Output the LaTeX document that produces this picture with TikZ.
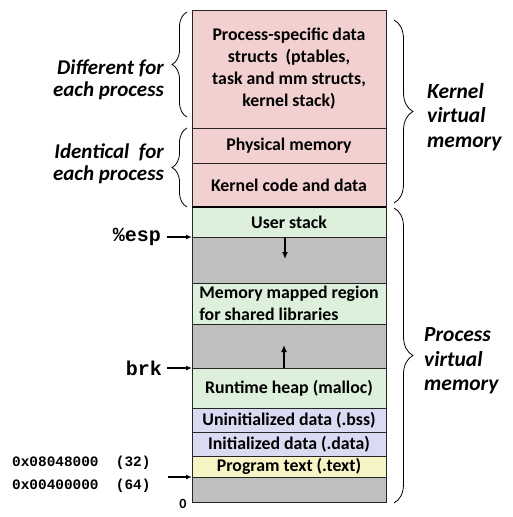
\documentclass[tikz,border=0pt]{standalone}
\usepackage{fontspec}
\setmainfont{Carlito}
\newfontfamily\monofont{Liberation Mono}
\usetikzlibrary{decorations.pathreplacing,arrows.meta}
\definecolor{kpink}{RGB}{242,208,208}
\definecolor{ugreen}{RGB}{221,240,219}
\definecolor{ugray}{RGB}{191,191,191}
\definecolor{ulav}{RGB}{218,218,242}
\definecolor{uyel}{RGB}{247,245,198}
\tikzset{
  blk/.style={draw=black!85, line width=0.8pt, minimum width=194pt, inner sep=0pt, outer sep=0pt,
    font=\fontsize{17.8}{22}\selectfont\bfseries, align=center, text=black},
  side/.style={font=\fontsize{21}{21.5}\selectfont\bfseries\itshape, inner sep=0pt},
  sider/.style={font=\fontsize{21.5}{24.5}\selectfont\bfseries\itshape, inner sep=0pt, align=left, anchor=west},
  brc/.style={decorate, decoration={brace, amplitude=#1}, line width=0.8pt},
  ptr/.style={-{Latex[length=6pt,width=5pt]}, line width=1.2pt},
  inarr/.style={-{Latex[length=7pt,width=6pt]}, line width=1.8pt},
  mono/.style={font=\monofont\fontsize{20}{22}\selectfont\bfseries, inner sep=0pt, anchor=east},
  hex/.style={font=\monofont\fontsize{14.4}{18}\selectfont\bfseries, inner sep=0pt, anchor=west}
}
\begin{document}
\begin{tikzpicture}[x=1pt,y=-1pt]
\useasboundingbox (0,0) rectangle (512,517);
\fill[white] (0,0) rectangle (512,517);
% blocks: center y, height
\node[blk, fill=kpink, minimum height=118pt] (ps) at (289,69) {Process-specific data\\structs\ \ (ptables,\\task and mm structs,\\kernel stack)};
\node[blk, fill=kpink, minimum height=35pt] (phys) at (289,145.5) {Physical memory};
\node[blk, fill=kpink, minimum height=44pt] (kcode) at (289,185) {Kernel code and data};
\node[blk, fill=ugreen, minimum height=30pt] (ustack) at (289,222) {User stack};
\node[blk, fill=ugray, minimum height=46pt] (gapa) at (289,260) {};
\node[blk, fill=ugreen, minimum height=41pt, align=left] (mmap) at (289,303.5) {Memory mapped region\\ for shared libraries};
\node[blk, fill=ugray, minimum height=44pt] (gapb) at (289,346) {};
\node[blk, fill=ugreen, minimum height=40pt] (heap) at (289,388) {Runtime heap (malloc)};
\node[blk, fill=ulav, minimum height=24pt] (bss) at (289,420) {Uninitialized data (.bss)};
\node[blk, fill=ulav, minimum height=24pt] (data) at (289,444) {Initialized data (.data)};
\node[blk, fill=uyel, minimum height=21pt] (text) at (289,466.5) {Program text (.text)};
\node[blk, fill=ugray, minimum height=25pt] (gapc) at (289,489.5) {};
\draw[line width=2.6pt] (kcode.south west) -- (kcode.south east);
% internal arrows
\coordinate (sdown) at (285,259);
\coordinate (stop) at (285,237);
\draw[inarr] (stop) -- (sdown);
\coordinate (hup) at (284,345);
\coordinate (hbot) at (284,368);
\draw[inarr] (hbot) -- (hup);
% pointers
\node[mono] (esp) at (161,237) {\%esp};
\draw[ptr] (esp.east) ++(6,0) -- (gapa.north west);
\node[mono] (brk) at (162,368) {brk};
\draw[ptr] (brk.east) ++(5,0) -- (heap.north west);
\node[hex] (h32) at (12,463) {0x08048000\ \ (32)};
\node[hex] (h64) at (12,486) {0x00400000\ \ (64)};
\coordinate (hexstart) at (168,477);
\draw[ptr] (hexstart) -- (gapc.north west);
\node[font=\fontsize{14}{16}\selectfont\bfseries, inner sep=0pt] (zero) at (183,504) {0};
% left braces
\draw[brc=15pt] (187,117) -- (187,12);
\draw[brc=15pt] (187,207) -- (187,128);
\node[side, align=right, anchor=east] (diff) at (164,80) {Different for\\each process};
\node[side, align=right, anchor=east] (ident) at (164,164) {Identical\ \ for\\each process};
% right braces
\draw[brc=19pt] (394,20) -- (394,203);
\draw[brc=19pt] (394,208) -- (394,503);
\node[sider] (kvm) at (427,117) {Kernel\\virtual\\memory};
\node[sider] (pvm) at (424,361) {Process\\virtual\\memory};
\end{tikzpicture}
\end{document}
